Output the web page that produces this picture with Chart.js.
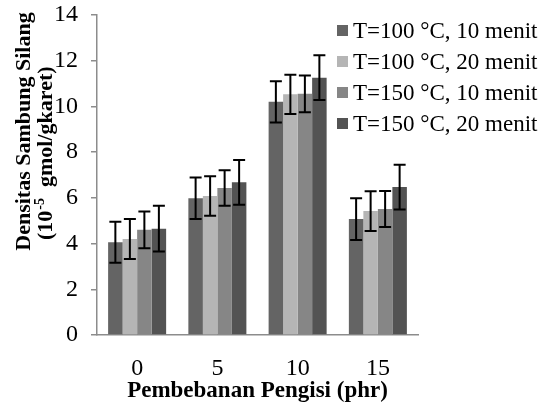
<!DOCTYPE html>
<html>
<head>
<meta charset="utf-8">
<script src="https://cdn.jsdelivr.net/npm/chart.js@4"></script>
<style>
html,body{margin:0;padding:0;background:#fff;}
#c{display:block;}
</style>
</head>
<body>
<canvas id="c" width="550" height="403"></canvas>
<script>
const categories = ['0', '5', '10', '15'];
const seriesLabels = ['T=100 °C, 10 menit', 'T=100 °C, 20 menit', 'T=150 °C, 10 menit', 'T=150 °C, 20 menit'];
const s1 = [4.06, 5.98, 10.2, 5.07];
const s2 = [4.2, 6.08, 10.53, 5.42];
const s3 = [4.6, 6.43, 10.55, 5.51];
const s4 = [4.65, 6.68, 11.26, 6.47];
const e1 = [0.9, 0.91, 0.9, 0.91];
const e2 = [0.87, 0.86, 0.86, 0.87];
const e3 = [0.8, 0.78, 0.8, 0.79];
const e4 = [1.0, 0.98, 0.98, 0.98];
const yTicks = [0, 2, 4, 6, 8, 10, 12, 14];
const xTitle = 'Pembebanan Pengisi (phr)';
const yTitle1 = 'Densitas Sambung Silang';
const yTitle2a = '(10';
const yTitle2sup = '-5';
const yTitle2b = '  gmol/gkaret)';

const colors = ['#646464', '#b5b5b5', '#868686', '#535353'];
const serif = "'Liberation Serif', 'Times New Roman', serif";

const errorBars = {
  id: 'errorBars',
  afterDatasetsDraw(chart) {
    const ctx = chart.ctx;
    const y = chart.scales.y;
    ctx.save();
    ctx.strokeStyle = '#000';
    ctx.lineWidth = 2;
    chart.data.datasets.forEach((ds, i) => {
      const meta = chart.getDatasetMeta(i);
      meta.data.forEach((bar, j) => {
        const v = ds.data[j], e = ds.errors[j];
        const yt = y.getPixelForValue(v + e), yb = y.getPixelForValue(v - e);
        const x = bar.x, hw = 6;
        ctx.beginPath();
        ctx.moveTo(x, yt); ctx.lineTo(x, yb);
        ctx.moveTo(x - hw, yt); ctx.lineTo(x + hw, yt);
        ctx.moveTo(x - hw, yb); ctx.lineTo(x + hw, yb);
        ctx.stroke();
      });
    });
    ctx.restore();
  }
};

const customText = {
  id: 'customText',
  afterDraw(chart) {
    const ctx = chart.ctx;
    const ca = chart.chartArea;
    ctx.save();
    // legend
    ctx.textBaseline = 'middle';
    ctx.textAlign = 'left';
    ctx.font = '23px ' + serif;
    chart.data.datasets.forEach((ds, i) => {
      const cy = 30.5 + i * 31;
      ctx.fillStyle = ds.backgroundColor;
      ctx.fillRect(337, cy - 5.5, 11, 11);
      ctx.fillStyle = '#000';
      ctx.fillText(ds.label, 353, cy + 1);
    });
    // x title
    ctx.font = 'bold 23px ' + serif;
    ctx.textAlign = 'center';
    ctx.textBaseline = 'alphabetic';
    ctx.fillText(xTitle, (ca.left + ca.right) / 2, 397);
    // y title
    ctx.save();
    ctx.translate(30, 131.5);
    ctx.rotate(-Math.PI / 2);
    ctx.font = 'bold 22px ' + serif;
    ctx.textAlign = 'center';
    ctx.fillText(yTitle1, 0, 0);
    ctx.restore();
    ctx.save();
    ctx.translate(52, 240);
    ctx.rotate(-Math.PI / 2);
    ctx.textAlign = 'left';
    ctx.font = 'bold 22px ' + serif;
    ctx.fillText(yTitle2a, 0, 0);
    let w = ctx.measureText(yTitle2a).width;
    ctx.font = 'bold 14px ' + serif;
    ctx.fillText(yTitle2sup, w + 1, -8);
    w += ctx.measureText(yTitle2sup).width + 1;
    ctx.font = 'bold 22px ' + serif;
    ctx.fillText(yTitle2b, w, 0);
    ctx.restore();
    ctx.restore();
  }
};

const sData = [s1, s2, s3, s4];
const eData = [e1, e2, e3, e4];

new Chart(document.getElementById('c'), {
  type: 'bar',
  data: {
    labels: categories,
    datasets: sData.map((d, i) => ({
      label: seriesLabels[i],
      data: d,
      errors: eData[i],
      backgroundColor: colors[i],
      borderWidth: 0,
      categoryPercentage: 0.723,
      barPercentage: 1.0
    }))
  },
  options: {
    responsive: false,
    devicePixelRatio: 1,
    animation: false,
    layout: { padding: { left: 0, right: 132, top: 15, bottom: 0 } },
    plugins: { legend: { display: false }, tooltip: { enabled: false }, title: { display: false } },
    scales: {
      x: {
        grid: { display: false },
        border: { display: true, color: '#8c8c8c', width: 1.5 },
        ticks: { color: '#000', font: { family: serif, size: 24 }, padding: 11 },
        afterFit(scale) { scale.height = 68; scale.paddingLeft = 0; scale.paddingRight = 0; }
      },
      y: {
        min: 0, max: 14,
        afterBuildTicks(scale) { scale.ticks = yTicks.map(v => ({ value: v })); },
        grid: { display: true, drawOnChartArea: false, drawTicks: true, tickLength: 6, tickColor: '#8c8c8c', lineWidth: 1.5 },
        border: { display: true, color: '#8c8c8c', width: 1.5 },
        ticks: { color: '#000', font: { family: serif, size: 24 }, padding: 13 },
        afterFit(scale) { scale.width = 97; scale.paddingTop = 0; scale.paddingBottom = 0; }
      }
    }
  },
  plugins: [errorBars, customText]
});
</script>
</body>
</html>
